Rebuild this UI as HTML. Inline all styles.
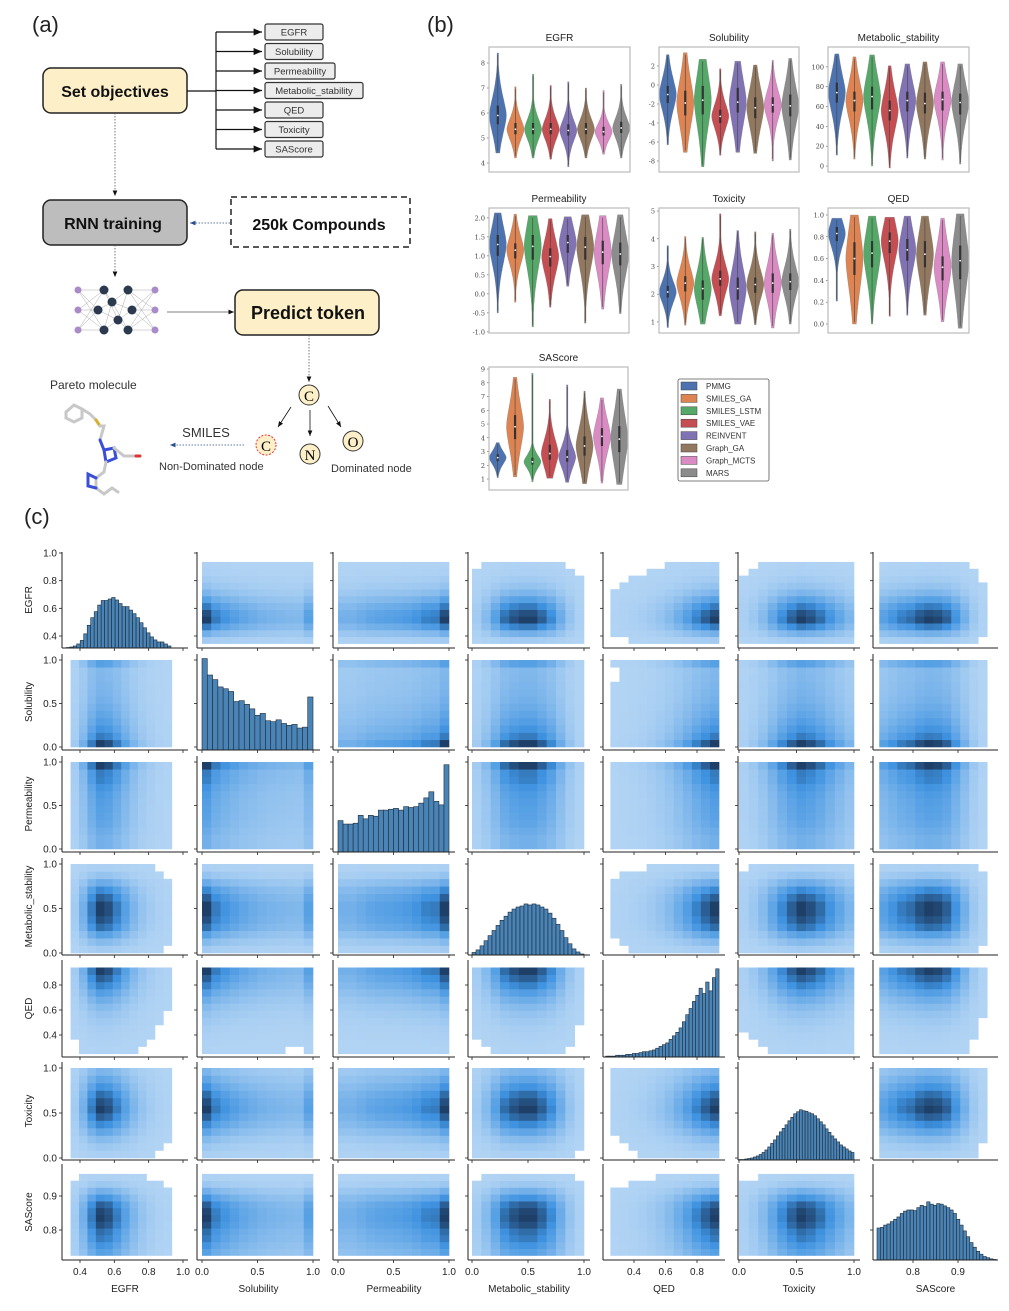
<!DOCTYPE html>
<html><head><meta charset="utf-8"><style>
body{margin:0;background:#fff;}
svg{display:block;font-family:"Liberation Sans",sans-serif;}
</style></head><body>
<svg id="fig" width="1009" height="1311" viewBox="0 0 1009 1311" xmlns="http://www.w3.org/2000/svg">
<defs>
<marker id="ah" markerWidth="8" markerHeight="8" refX="7" refY="4" orient="auto"><path d="M0,1 L7,4 L0,7 z" fill="#111"/></marker>
<marker id="ahb" markerWidth="8" markerHeight="8" refX="7" refY="4" orient="auto"><path d="M0,1 L7,4 L0,7 z" fill="#2a4f8f"/></marker>
</defs>
<text x="32" y="32" font-size="22" fill="#222">(a)</text>
<text x="427" y="32" font-size="22" fill="#222">(b)</text>
<text x="24" y="524" font-size="22" fill="#222">(c)</text>

<g>
<rect x="43" y="68" width="144" height="45" rx="8" fill="#fdf0c8" stroke="#222" stroke-width="1.5"/>
<text x="115" y="97" font-size="16" font-weight="bold" text-anchor="middle" fill="#111">Set objectives</text>
<line x1="187" y1="91" x2="216" y2="91" stroke="#111" stroke-width="1.2"/>
<line x1="216" y1="32" x2="216" y2="149" stroke="#111" stroke-width="1.2"/>
<g id="objs"></g>
<line x1="115" y1="113" x2="115" y2="196" stroke="#555" stroke-width="0.8" stroke-dasharray="1.5,1.5" marker-end="url(#ah)"/>
<rect x="43" y="200" width="144" height="45" rx="8" fill="#bdbdbd" stroke="#222" stroke-width="1.5"/>
<text x="113" y="229" font-size="16" font-weight="bold" text-anchor="middle" fill="#111">RNN  training</text>
<rect x="231" y="197" width="179" height="50" fill="none" stroke="#222" stroke-width="1.5" stroke-dasharray="6,4"/>
<text x="319" y="230" font-size="16" font-weight="bold" text-anchor="middle" fill="#111">250k Compounds</text>
<line x1="230" y1="223" x2="190" y2="223" stroke="#2a4f8f" stroke-width="0.8" stroke-dasharray="1.5,1.5" marker-end="url(#ahb)"/>
<line x1="115" y1="245" x2="115" y2="277" stroke="#555" stroke-width="0.8" stroke-dasharray="1.5,1.5" marker-end="url(#ah)"/>
<g id="net"></g>
<line x1="167" y1="312" x2="234" y2="312" stroke="#555" stroke-width="0.8" marker-end="url(#ah)"/>
<rect x="235" y="290" width="144" height="45" rx="8" fill="#fdf0c8" stroke="#222" stroke-width="1.5"/>
<text x="308" y="319" font-size="18" font-weight="bold" text-anchor="middle" fill="#111">Predict token</text>
<line x1="309" y1="335" x2="309" y2="382" stroke="#555" stroke-width="0.8" stroke-dasharray="1.5,1.5" marker-end="url(#ah)"/>
<circle cx="309" cy="395" r="10" fill="#fdf0c8" stroke="#333"/>
<text x="309" y="401" font-size="15" text-anchor="middle" font-family="Liberation Serif,serif">C</text>
<line x1="291" y1="407" x2="278" y2="427" stroke="#111" stroke-width="0.8" marker-end="url(#ah)"/>
<line x1="310" y1="410" x2="310" y2="436" stroke="#111" stroke-width="0.8" marker-end="url(#ah)"/>
<line x1="328" y1="406" x2="341" y2="427" stroke="#111" stroke-width="0.8" marker-end="url(#ah)"/>
<circle cx="266" cy="445" r="10" fill="#fdf0c8" stroke="#e33" stroke-dasharray="2,1.5"/>
<text x="266" y="451" font-size="15" text-anchor="middle" font-family="Liberation Serif,serif">C</text>
<circle cx="310" cy="454" r="10" fill="#fdf0c8" stroke="#333"/>
<text x="310" y="460" font-size="15" text-anchor="middle" font-family="Liberation Serif,serif">N</text>
<circle cx="353" cy="441" r="10" fill="#fdf0c8" stroke="#333"/>
<text x="353" y="447" font-size="15" text-anchor="middle" font-family="Liberation Serif,serif">O</text>
<text x="206" y="437" font-size="13" text-anchor="middle" fill="#333">SMILES</text>
<line x1="244" y1="445" x2="170" y2="445" stroke="#2a4f8f" stroke-width="0.8" stroke-dasharray="1.5,1.5" marker-end="url(#ahb)"/>
<text x="159" y="470" font-size="11" fill="#333">Non-Dominated node</text>
<text x="331" y="472" font-size="11" fill="#333">Dominated node</text>
<text x="50" y="389" font-size="12" fill="#333">Pareto molecule</text>
<g stroke-linecap="round" fill="none" stroke-width="3">
<polyline points="66,412 74,405 82,409 82,418 74,422 66,418 66,412" stroke="#c8c8c8"/>
<polyline points="82,409 90,414 96,420" stroke="#c8c8c8"/>
<polyline points="96,420 100,426" stroke="#d8b030"/>
<polyline points="100,426 104,426 100,440" stroke="#c8c8c8"/>
<polyline points="100,440 104,450 114,448 116,458 106,462 104,450" stroke="#3a4fd8"/>
<polyline points="114,448 124,456 136,456" stroke="#c8c8c8"/>
<polyline points="136,456 140,456" stroke="#d33"/>
<polyline points="106,462 104,472 96,478 96,488 104,494 112,488 118,492" stroke="#c8c8c8"/>
<polyline points="96,478 88,474 88,486 96,488" stroke="#3a4fd8"/>
</g>
</g>

<g id="violins"></g>
<g id="pairs"></g>
</svg>
<script>
const NS='http://www.w3.org/2000/svg';
function mk(tag,attrs,parent,text){const e=document.createElementNS(NS,tag);for(const k in attrs)e.setAttribute(k,attrs[k]);if(text!==undefined)e.textContent=text;parent.appendChild(e);return e;}

const objNames=['EGFR','Solubility','Permeability','Metabolic_stability','QED','Toxicity','SAScore'];
const objBoxW=[58,58,70,98,58,58,58];
const objG=document.getElementById('objs');
objNames.forEach((n,i)=>{
  const y=32+i*19.5;
  const ln=mk('line',{x1:216,y1:y,x2:262,y2:y,stroke:'#111','stroke-width':1.2,'marker-end':'url(#ah)'},objG);
  
  
  const r=mk('rect',{x:265,y:y-8,width:objBoxW[i],height:16,rx:2,fill:'#ececec',stroke:'#333','stroke-width':1.2},objG);
  
  
  const t=mk('text',{x:265+objBoxW[i]/2,y:y+3.5,'font-size':9.5,'text-anchor':'middle',fill:'#333'},objG,n);
  
  
});
const net=document.getElementById('net');
const L0=[[78,290],[78,310],[78,330]],L1=[[104,290],[98,310],[104,330]],L2=[[112,302],[118,320]],L3=[[128,290],[132,310],[128,330]],L4=[[155,290],[155,310],[155,330]];
const layers=[L0,L1,L2,L3,L4];
for(let l=0;l<4;l++)layers[l].forEach(a=>layers[l+1].forEach(b=>mk('line',{x1:a[0],y1:a[1],x2:b[0],y2:b[1],stroke:'#aaa','stroke-width':0.5},net)));
layers.forEach((L,li)=>L.forEach(p=>mk('circle',{cx:p[0],cy:p[1],r:li===0||li===4?3.5:4.5,fill:li===0||li===4?'#a98bc9':'#2b3a4f'},net)));

// ---------- Panel (b) violin data ----------
const models=['PMMG','SMILES_GA','SMILES_LSTM','SMILES_VAE','REINVENT','Graph_GA','Graph_MCTS','MARS'];
const modelColors=['#4c72b0','#dd8452','#55a868','#c44e52','#8172b3','#937860','#da8bc3','#8c8c8c'];
const violinTitles=['EGFR','Solubility','Metabolic_stability','Permeability','Toxicity','QED','SAScore'];
const egfrLo=[4.4,4.2,4.2,4.15,3.85,4.2,4.35,4.2], egfrHi=[8.4,7.05,7.55,7.1,7.25,7.0,6.9,7.15];
const egfrQ1=[5.55,5.15,5.15,5.15,5.1,5.15,5.1,5.2], egfrMed=[5.9,5.35,5.35,5.35,5.3,5.35,5.25,5.4], egfrQ3=[6.3,5.6,5.6,5.6,5.55,5.6,5.45,5.65];
const solLo=[-6.3,-7.1,-8.6,-7.4,-7.1,-7.2,-8.0,-7.9], solHi=[3.2,3.4,2.7,1.7,2.5,2.1,2.6,2.8];
const solQ1=[-1.9,-3.2,-3.1,-4.0,-2.9,-3.5,-2.9,-3.3], solMed=[-1.0,-1.9,-1.6,-3.3,-1.8,-2.4,-2.1,-2.2], solQ3=[-0.1,-0.6,-0.1,-2.6,-0.3,-1.3,-1.3,-1.0];
const metLo=[11,7,0,-2,8,7,6,2], metHi=[113,110,112,101,103,105,105,103];
const metQ1=[64,55,57,46,55,53,56,52], metMed=[74,66,70,56,66,63,67,64], metQ3=[84,75,80,66,75,74,75,73];
const permLo=[-0.5,-0.22,-0.87,-0.35,0.2,-0.77,-0.4,-0.52], permHi=[2.13,2.1,2.06,1.98,2.03,2.08,2.06,2.08];
const permQ1=[1.0,0.93,0.9,0.72,1.08,0.9,0.78,0.75], permMed=[1.3,1.15,1.25,0.98,1.35,1.23,1.1,1.05], permQ3=[1.55,1.33,1.55,1.2,1.55,1.5,1.4,1.35];
const toxLo=[0.8,0.88,0.92,1.22,0.92,0.9,0.78,0.92], toxHi=[3.75,4.08,4.05,4.9,4.3,4.25,4.2,4.35];
const toxQ1=[1.88,2.1,1.8,2.3,1.8,2.05,2.05,2.15], toxMed=[2.08,2.4,2.2,2.55,2.2,2.35,2.4,2.45], toxQ3=[2.3,2.65,2.5,2.85,2.6,2.6,2.75,2.75];
const qedLo=[0.21,0.0,0.0,0.07,0.08,0.08,0.02,-0.04], qedHi=[0.97,1.0,0.99,0.98,0.99,0.99,0.97,1.01];
const qedQ1=[0.76,0.45,0.52,0.65,0.58,0.52,0.4,0.41], qedMed=[0.83,0.6,0.65,0.76,0.68,0.64,0.52,0.58], qedQ3=[0.89,0.75,0.76,0.84,0.78,0.76,0.62,0.72];
const sasLo=[1.1,1.15,0.8,1.05,0.75,0.65,0.7,0.6], sasHi=[3.65,8.4,8.7,6.8,7.85,7.4,6.9,7.55];
const sasQ1=[2.3,3.9,2.05,2.4,2.25,2.7,3.4,2.95], sasMed=[2.55,4.8,2.25,2.85,2.6,3.4,4.1,3.9], sasQ3=[2.8,5.65,2.55,3.5,3.1,4.1,4.7,4.85];
const egfrTicks=[4,5,6,7,8], solTicks=[-8,-6,-4,-2,0,2], metTicks=[0,20,40,60,80,100], permTicks=[-1.0,-0.5,0.0,0.5,1.0,1.5,2.0], toxTicks=[1,2,3,4,5], qedTicks=[0,0.2,0.4,0.6,0.8,1.0], sasTicks=[1,2,3,4,5,6,7,8,9];
const violinSets=[
 [egfrLo,egfrHi,egfrQ1,egfrMed,egfrQ3,egfrTicks,0],
 [solLo,solHi,solQ1,solMed,solQ3,solTicks,0],
 [metLo,metHi,metQ1,metMed,metQ3,metTicks,0],
 [permLo,permHi,permQ1,permMed,permQ3,permTicks,1],
 [toxLo,toxHi,toxQ1,toxMed,toxQ3,toxTicks,0],
 [qedLo,qedHi,qedQ1,qedMed,qedQ3,qedTicks,1],
 [sasLo,sasHi,sasQ1,sasMed,sasQ3,sasTicks,0]];
const vBoxes=[[489,630,47,172],[659,799,47,172],[828,969,47,172],[489,629,208,333],[659,799,208,333],[828,969,208,333],[489,628,367,490]];
const vDomains=[[8.64,3.64],[4.0,-9.16],[120,-6],[2.26,-1.03],[5.11,0.6],[1.064,-0.083],[9.15,0.2]];

const VG=document.getElementById('violins');
violinSets.forEach((set,p)=>{
  const [lo,hi,q1,md,q3,ticks,dec]=set;
  const [x0,x1,y0,y1]=vBoxes[p];const [vt,vb]=vDomains[p];
  const ys=v=>y0+(vt-v)/(vt-vb)*(y1-y0);
  const g=mk('g',{},VG);
  
  
  const clipId='vc'+p;
  const cp=mk('clipPath',{id:clipId},g);mk('rect',{x:x0,y:y0,width:x1-x0,height:y1-y0},cp);
  const t=mk('text',{x:(x0+x1)/2,y:y0-6,'font-size':10,'text-anchor':'middle',fill:'#222'},g,violinTitles[p]);
  
  
  ticks.forEach(tv=>{
    const y=ys(tv);
    mk('line',{x1:x0-2,y1:y,x2:x0,y2:y,stroke:'#555','stroke-width':0.6},g);
    const tl=mk('text',{x:x0-4,y:y+2.5,'font-size':6.5,'text-anchor':'end',fill:'#444','font-family':'DejaVu Serif,serif'},g,dec?tv.toFixed(1):String(tv));
    
    
  });
  const inner=mk('g',{'clip-path':'url(#'+clipId+')'},g);
  const slot=(x1-x0)/8;
  models.forEach((m,i)=>{
    const cx=x0+slot*(i+0.5);
    const sig=1.35*(q3[i]-q1[i])/1.35;
    const N=70;let left=[],right=[];
    for(let k=0;k<=N;k++){
      const v=hi[i]-(hi[i]-lo[i])*k/N;
      const z=Math.abs(v-md[i])/sig;
      const d=Math.exp(-0.5*Math.pow(z,1.6));
      const w=Math.max(d*8.6,0.7);
      left.push([cx-w,ys(v)]);right.push([cx+w,ys(v)]);
    }
    const pts=left.concat(right.reverse());
    const path=mk('path',{d:'M'+pts.map(q=>q[0].toFixed(1)+','+q[1].toFixed(1)).join('L')+'Z',fill:modelColors[i],stroke:'#777','stroke-width':0.3},inner);
    
    
    mk('line',{x1:cx,y1:ys(hi[i])+2,x2:cx,y2:ys(lo[i])-2,stroke:'#444','stroke-width':0.6},inner);
    mk('line',{x1:cx,y1:ys(q3[i]),x2:cx,y2:ys(q1[i]),stroke:'#333','stroke-width':2.2},inner);
    mk('circle',{cx:cx,cy:ys(md[i]),r:0.9,fill:'#fff'},inner);
  });
  const fr=mk('rect',{x:x0,y:y0,width:x1-x0,height:y1-y0,fill:'none',stroke:'#bbb','stroke-width':1.2},g);
  
  
});
const lg=mk('g',{},VG);


mk('rect',{x:678,y:379,width:91,height:102,rx:2,fill:'#fff',stroke:'#555','stroke-width':0.8},lg);
models.forEach((m,i)=>{
  const y=386+i*12.4;
  const pr=mk('rect',{x:681,y:y-4,width:16,height:8,fill:modelColors[i],stroke:'#444','stroke-width':0.5},lg);
  
  
  const lt=mk('text',{x:706,y:y+3,'font-size':8,fill:'#333'},lg,m);
  
  
});

// ---------- Panel (c) pairplot data ----------
const vars=['EGFR','Solubility','Permeability','Metabolic_stability','QED','Toxicity','SAScore'];
const egfrProfile=[0.15,0.45,0.8,1.0,0.95,0.8,0.6,0.4,0.25,0.15,0.08,0.04];
const solProfile=[1.0,0.8,0.7,0.62,0.55,0.5,0.45,0.42,0.4,0.38,0.37,0.6];
const permProfile=[0.45,0.45,0.5,0.55,0.58,0.6,0.62,0.65,0.7,0.78,0.8,1.0];
const metProfile=[0.15,0.35,0.6,0.85,0.95,1.0,1.0,0.9,0.75,0.5,0.25,0.08];
const qedProfile=[0.03,0.05,0.08,0.12,0.18,0.25,0.35,0.48,0.62,0.78,0.9,1.0];
const toxProfile=[0.1,0.2,0.35,0.55,0.75,0.9,1.0,0.95,0.85,0.7,0.55,0.4];
const sasProfile=[0.6,0.7,0.8,0.85,0.95,1.0,0.98,0.9,0.7,0.45,0.2,0.05];
const profiles=[egfrProfile,solProfile,permProfile,metProfile,qedProfile,toxProfile,sasProfile];
const heatExtent=[[0.345,0.935],[0,1],[0,1],[0,1],[0.25,0.94],[0,1],[0.725,0.965]];
const egfrHist=[0.01,0.02,0.04,0.08,0.15,0.28,0.45,0.6,0.72,0.85,0.94,0.94,0.97,1.0,0.95,0.88,0.82,0.82,0.75,0.68,0.6,0.5,0.4,0.3,0.22,0.16,0.12,0.12,0.08,0.04];
const solHist=[1.0,0.82,0.77,0.69,0.67,0.64,0.53,0.54,0.50,0.45,0.38,0.40,0.32,0.31,0.33,0.29,0.27,0.28,0.24,0.25,0.58];
const permHist=[0.36,0.32,0.32,0.33,0.42,0.38,0.42,0.41,0.48,0.48,0.49,0.50,0.48,0.52,0.51,0.52,0.56,0.62,0.69,0.58,0.54,1.0];
const metHist=[0.05,0.1,0.18,0.28,0.38,0.48,0.58,0.68,0.76,0.84,0.9,0.94,0.96,1.0,0.98,1.0,0.98,0.94,0.9,0.82,0.72,0.6,0.48,0.34,0.22,0.12,0.06,0.02];
const qedHist=[0.01,0.01,0.01,0.02,0.02,0.02,0.03,0.03,0.04,0.04,0.05,0.06,0.06,0.07,0.08,0.1,0.12,0.14,0.16,0.2,0.24,0.28,0.33,0.4,0.48,0.55,0.63,0.7,0.78,0.72,0.85,0.75,0.9,1.0];
const toxHist=[0.01,0.01,0.02,0.03,0.04,0.06,0.08,0.11,0.15,0.2,0.26,0.33,0.4,0.48,0.56,0.63,0.7,0.78,0.85,0.92,0.96,1.0,0.98,0.97,0.94,0.92,0.88,0.82,0.76,0.7,0.62,0.55,0.48,0.42,0.36,0.3,0.26,0.22,0.18,0.15];
const sasHist=[0.55,0.56,0.6,0.62,0.66,0.7,0.74,0.8,0.84,0.86,0.86,0.85,0.9,0.94,0.92,1.0,0.96,0.94,0.97,0.96,0.93,0.9,0.86,0.8,0.7,0.6,0.5,0.4,0.3,0.22,0.15,0.1,0.06,0.04,0.02,0.01];
const hists=[egfrHist,solHist,permHist,metHist,qedHist,toxHist,sasHist];
const histExtent=[[0.32,0.93],[0,1],[0,1],[0,1],[0.22,0.94],[0,1],[0.72,0.985]];
const histYMax=[1.9,1.05,1.1,1.9,1.1,1.95,1.65];
const xTicks=[[0.4,0.6,0.8,1.0],[0,0.5,1.0],[0,0.5,1.0],[0,0.5,1.0],[0.4,0.6,0.8],[0,0.5,1.0],[0.8,0.9]];
const yTicks=[[0.4,0.6,0.8,1.0],[0,0.5,1.0],[0,0.5,1.0],[0,0.5,1.0],[0.4,0.6,0.8],[0,0.5,1.0],[0.8,0.9]];
const colCal=[[62,188,0.4,80,1.0,183],[197,320,0,202,1,313],[333,455,0,338,1,449],[468,590,0,472,1,584],[603,725,0.4,634,0.8,697],[738,860,0,739,1,854],[873,998,0.8,913,0.9,958]];
const rowCal=[[552,648,1.0,553,0.4,636],[654,750,1,660,0,747],[756,852,1,762,0,849],[858,955,1,864,0,953],[960,1057,0.8,985,0.4,1035],[1062,1160,1,1068,0,1158],[1164,1260,0.9,1196,0.8,1230]];
const xS=(c,v)=>{const k=colCal[c];return k[3]+(v-k[2])*(k[5]-k[3])/(k[4]-k[2]);};
const yS=(r,v)=>{const k=rowCal[r];return k[3]+(v-k[2])*(k[5]-k[3])/(k[4]-k[2]);};
function cmap(t){
  const a=[178,212,244],b=[62,146,224],c=[30,64,104];
  let p,q,u;if(t<0.65){p=a;q=b;u=t/0.65;}else{p=b;q=c;u=(t-0.65)/0.35;}
  return 'rgb('+p.map((x,i)=>Math.round(x+(q[i]-x)*u)).join(',')+')';
}
const PG=document.getElementById('pairs');
for(let r=0;r<7;r++){
  for(let c=0;c<7;c++){
    const g=mk('g',{},PG);
    
    
    const [L,R]=colCal[c];const [T,B]=rowCal[r];
    if(r===c){
      const h=hists[c],[lo,hi]=histExtent[c],bw=(hi-lo)/h.length;
      h.forEach((v,i)=>{
        const xa=xS(c,lo+i*bw),xb=xS(c,lo+(i+1)*bw);
        const hh=v/histYMax[c]*(B-T);
        const bar=mk('rect',{x:xa,y:B-hh,width:xb-xa,height:hh,fill:'#4a84b6',stroke:'#1e2a36','stroke-width':0.6},g);
        
        
      });
    } else {
      const px=profiles[c],py=profiles[r],ex=heatExtent[c],ey=heatExtent[r];
      const nx=px.length,ny=py.length;
      for(let i=0;i<nx;i++)for(let j=0;j<ny;j++){
        const v=px[i]*py[j];if(v<0.012)continue;
        const xa=xS(c,ex[0]+(ex[1]-ex[0])*i/nx),xb=xS(c,ex[0]+(ex[1]-ex[0])*(i+1)/nx);
        const ya=yS(r,ey[0]+(ey[1]-ey[0])*j/ny),yb=yS(r,ey[0]+(ey[1]-ey[0])*(j+1)/ny);
        const cell=mk('rect',{x:xa,y:Math.min(ya,yb),width:xb-xa+0.3,height:Math.abs(yb-ya)+0.3,fill:cmap(Math.pow(v,1.3))},g);
        
        
      }
    }
    mk('line',{x1:L,y1:T,x2:L,y2:B,stroke:'#222','stroke-width':1},g);
    mk('line',{x1:L,y1:B,x2:R,y2:B,stroke:'#222','stroke-width':1},g);
    yTicks[r].forEach(tv=>{const y=yS(r,tv);mk('line',{x1:L-3,y1:y,x2:L,y2:y,stroke:'#222','stroke-width':0.8},g);
      if(c===0){const tl=mk('text',{x:L-5,y:y+3.5,'font-size':10,'text-anchor':'end',fill:'#222'},g,tv.toFixed(1));
        
        }});
    xTicks[c].forEach(tv=>{const x=xS(c,tv);mk('line',{x1:x,y1:B,x2:x,y2:B+3,stroke:'#222','stroke-width':0.8},g);
      if(r===6){const tl=mk('text',{x:x,y:B+15,'font-size':10,'text-anchor':'middle',fill:'#222'},g,tv.toFixed(1));
        
        }});
  }
  const yl=mk('text',{x:0,y:0,'font-size':10,'text-anchor':'middle',fill:'#222',transform:'translate(32,'+((rowCal[r][0]+rowCal[r][1])/2)+') rotate(-90)'},PG,vars[r]);
  
  
}
for(let c=0;c<7;c++){
  const xl=mk('text',{x:(colCal[c][0]+colCal[c][1])/2,y:1292,'font-size':10,'text-anchor':'middle',fill:'#222'},PG,vars[c]);
  
  
}
</script>
</body></html>
